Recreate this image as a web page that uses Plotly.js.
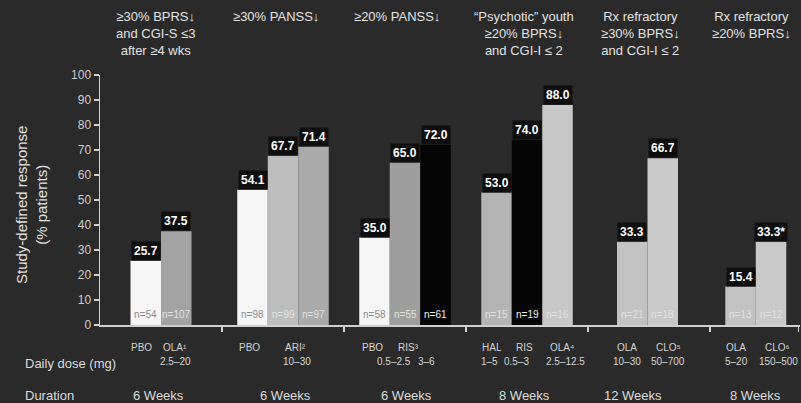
<!DOCTYPE html>
<html>
<head>
<meta charset="utf-8">
<script src="https://cdn.plot.ly/plotly-3.0.1.min.js"></script>
<style>
html,body{margin:0;padding:0;background:#2a2a2a;}
#chart{width:801px;height:403px;}
</style>
</head>
<body>
<div id="chart"></div>
<script>
// ---------- DATA ----------
const groupHeaders = [
  "≥30% BPRS↓<br>and CGI-S ≤3<br>after ≥4 wks",
  "≥30% PANSS↓",
  "≥20% PANSS↓",
  "“Psychotic” youth<br>≥20% BPRS↓<br>and CGI-I ≤ 2",
  "Rx refractory<br>≥30% BPRS↓<br>and CGI-I ≤ 2",
  "Rx refractory<br>≥20% BPRS↓"
];
const responseValues = [
  [25.7, 37.5],
  [54.1, 67.7, 71.4],
  [35.0, 65.0, 72.0],
  [53.0, 74.0, 88.0],
  [33.3, 66.7],
  [15.4, 33.3]
];
const valueLabels = [
  ["25.7", "37.5"],
  ["54.1", "67.7", "71.4"],
  ["35.0", "65.0", "72.0"],
  ["53.0", "74.0", "88.0"],
  ["33.3", "66.7"],
  ["15.4", "33.3*"]
];
const nLabels = [
  ["n=54", "n=107"],
  ["n=98", "n=99", "n=97"],
  ["n=58", "n=55", "n=61"],
  ["n=15", "n=19", "n=16"],
  ["n=21", "n=18"],
  ["n=13", "n=12"]
];
const drugLabels = [
  ["PBO", "OLA¹"],
  ["PBO", "ARI²"],
  ["PBO", "RIS³"],
  ["HAL", "RIS", "OLA⁴"],
  ["OLA", "CLO⁵"],
  ["OLA", "CLO⁶"]
];
const doseLabels = [
  ["2.5–20"],
  ["10–30"],
  ["0.5–2.5", "3–6"],
  ["1–5", "0.5–3", "2.5–12.5"],
  ["10–30", "50–700"],
  ["5–20", "150–500"]
];
const durations = ["6 Weeks", "6 Weeks", "6 Weeks", "8 Weeks", "12 Weeks", "8 Weeks"];
const yTicks = [0, 10, 20, 30, 40, 50, 60, 70, 80, 90, 100];

// ---------- LAYOUT / STYLE (positions in pixels, colours) ----------
const barColors = [
  ["#f6f6f6", "#a3a3a3"],
  ["#f6f6f6", "#bdbdbd", "#aaaaaa"],
  ["#f6f6f6", "#9e9e9e", "#050505"],
  ["#b4b4b4", "#050505", "#c7c7c7"],
  ["#c2c2c2", "#c9c9c9"],
  ["#c2c2c2", "#c9c9c9"]
];
const nColors = {"#f6f6f6": "#8c8c8c", "#050505": "#f0f0f0"};
const firstBarCenter = [1.5, 5, 9, 13, 17.45, 21];   // axis units (1 unit = bar width)
const groupBoundaries = [4, 8, 12, 16, 20, 22.9];
const headerPx = [155, 276, 397, 524, 640, 751];
const drugPx = [[141, 175], [249, 295], [372, 408], [492, 524, 562], [627, 668], [736, 777]];
const dosePx = [[175], [297], [394, 426], [489, 516, 565], [627, 668], [736, 778]];
const durationPx = [158, 285, 406, 524, 633, 755];

const L = 100, T = 75, PW = 700, PH = 250, XMAX = 22.95;
const px2paperX = px => (px - L) / PW;
const py2paperY = py => (T + PH - py) / PH;
const FONT = "Liberation Sans, Arial, sans-serif";

// ---------- BUILD ----------
const xs = [], ys = [], cols = [];
const annotations = [];
responseValues.forEach((vals, g) => {
  vals.forEach((v, i) => {
    const x = firstBarCenter[g] + i;
    xs.push(x); ys.push(v); cols.push(barColors[g][i]);
    annotations.push({
      x: x, y: v, xref: "x", yref: "y", yanchor: "bottom", xanchor: "center",
      text: valueLabels[g][i], showarrow: false, yshift: 0,
      bgcolor: "#0e0e0e", borderpad: 2,
      font: {family: FONT, size: 12, color: "#ffffff", weight: 700}
    });
    annotations.push({
      x: x, y: 0, xref: "x", yref: "y", yanchor: "bottom", xanchor: "center",
      text: nLabels[g][i], showarrow: false, yshift: 3,
      font: {family: FONT, size: 10, color: nColors[barColors[g][i]] || "#e2e2e2"}
    });
  });
  annotations.push({
    x: px2paperX(headerPx[g]), y: py2paperY(7), xref: "paper", yref: "paper",
    xanchor: "center", yanchor: "top", align: "center", showarrow: false,
    text: groupHeaders[g], font: {family: FONT, size: 13, color: "#e2e2e2"}
  });
  drugLabels[g].forEach((t, i) => annotations.push({
    x: px2paperX(drugPx[g][i]), y: py2paperY(347), xref: "paper", yref: "paper",
    xanchor: "center", yanchor: "middle", showarrow: false, text: t,
    font: {family: FONT, size: 10, color: "#d4d4d4"}
  }));
  doseLabels[g].forEach((t, i) => annotations.push({
    x: px2paperX(dosePx[g][i]), y: py2paperY(361), xref: "paper", yref: "paper",
    xanchor: "center", yanchor: "middle", showarrow: false, text: t,
    font: {family: FONT, size: 10, color: "#d4d4d4"}
  }));
  annotations.push({
    x: px2paperX(durationPx[g]), y: py2paperY(395), xref: "paper", yref: "paper",
    xanchor: "center", yanchor: "middle", showarrow: false, text: durations[g],
    font: {family: FONT, size: 13, color: "#dcdcdc"}
  });
});
annotations.push({
  x: px2paperX(23), y: py2paperY(363), xref: "paper", yref: "paper",
  xanchor: "left", yanchor: "middle", showarrow: false, text: "Daily dose (mg)",
  font: {family: FONT, size: 13, color: "#dcdcdc"}
});
annotations.push({
  x: px2paperX(23), y: py2paperY(395), xref: "paper", yref: "paper",
  xanchor: "left", yanchor: "middle", showarrow: false, text: "Duration",
  font: {family: FONT, size: 13, color: "#dcdcdc"}
});
annotations.push({
  x: px2paperX(31), y: py2paperY(205), xref: "paper", yref: "paper",
  xanchor: "center", yanchor: "middle", showarrow: false, textangle: -90,
  text: "Study-defined response<br>(% patients)",
  font: {family: FONT, size: 15, color: "#e0e0e0"}
});

const trace = {
  type: "bar", x: xs, y: ys, width: 1.0,
  textposition: "none",
  marker: {color: cols, line: {width: 0}},
  hoverinfo: "skip"
};

const layout = {
  width: 801, height: 403,
  margin: {l: L, r: 801 - L - PW, t: T, b: 403 - T - PH, pad: 0},
  paper_bgcolor: "#2a2a2a", plot_bgcolor: "#2a2a2a",
  showlegend: false,
  xaxis: {
    range: [0, XMAX], showgrid: false, zeroline: false,
    showline: true, linecolor: "#cfcfcf", linewidth: 1.5,
    tickmode: "array", tickvals: groupBoundaries, showticklabels: false,
    ticks: "outside", ticklen: 5, tickcolor: "#cfcfcf", tickwidth: 1.5,
    fixedrange: true
  },
  yaxis: {
    range: [0, 100], showgrid: false, zeroline: false,
    showline: true, linecolor: "#cfcfcf", linewidth: 1.5,
    tickmode: "array", tickvals: yTicks,
    ticks: "outside", ticklen: 5, tickcolor: "#cfcfcf", tickwidth: 1.5,
    tickfont: {family: FONT, size: 12, color: "#cccccc"},
    fixedrange: true
  },
  annotations: annotations
};

Plotly.newPlot("chart", [trace], layout, {staticPlot: true, displayModeBar: false});
</script>
</body>
</html>
